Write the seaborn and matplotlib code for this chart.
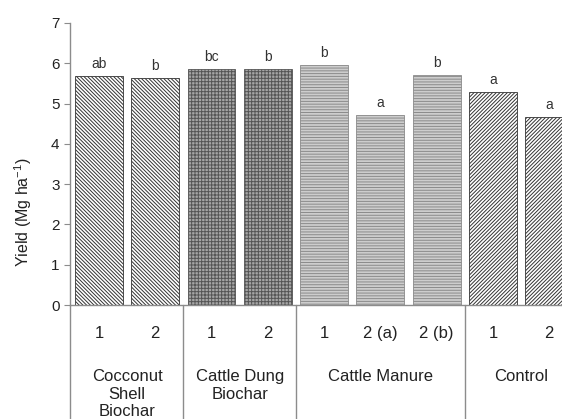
import matplotlib
matplotlib.use("Agg")
import matplotlib.pyplot as plt
import matplotlib.transforms as mtransforms
import seaborn as sns
import pandas as pd
import numpy as np

# data
groups = ["Cocconut\nShell\nBiochar", "Cattle Dung\nBiochar", "Cattle Manure", "Control"]
group_sizes = [2, 2, 3, 2]
tick_labels = ["1", "2", "1", "2", "1", "2 (a)", "2 (b)", "1", "2"]
yields = [5.68, 5.63, 5.86, 5.87, 5.96, 4.72, 5.71, 5.29, 4.67]
letters = ["ab", "b", "bc", "b", "b", "a", "b", "a", "a"]

sns.set_style("ticks")
plt.rcParams["font.family"] = ["Liberation Sans", "DejaVu Sans"]
plt.rcParams["hatch.linewidth"] = 0.7

df = pd.DataFrame({"bar": [str(i) for i in range(len(yields))], "yield": yields})

fig = plt.figure(figsize=(5.62, 4.19), dpi=100)
ax = fig.add_axes([70 / 562, 114 / 419, 513 / 562, 282 / 419])

sns.barplot(data=df, x="bar", y="yield", width=0.85, color="white", ax=ax)

styles = [
    ("white", "#333333", "\\" * 9),
    ("white", "#333333", "\\" * 9),
    ("#a6a6a6", "#555555", "+" * 5),
    ("#a6a6a6", "#555555", "+" * 5),
    ("#cdcdcd", "#8a8a8a", "-" * 6),
    ("#cdcdcd", "#8a8a8a", "-" * 6),
    ("#cdcdcd", "#8a8a8a", "-" * 6),
    ("white", "#333333", "/" * 9),
    ("white", "#333333", "/" * 9),
]
for patch, (fc, ec, h) in zip(ax.patches, styles):
    patch.set_facecolor(fc)
    patch.set_edgecolor(ec)
    patch.set_hatch(h)
    patch.set_linewidth(0.6)

for i, (v, t) in enumerate(zip(yields, letters)):
    ax.text(i, v + 0.12, t, ha="center", va="bottom", fontsize=10, color="#333333")

ax.set_xlim(-0.515, 8.6)
ax.set_ylim(0, 7)
ax.set_yticks(range(8))
ax.set_xticks(range(len(tick_labels)))
ax.set_xticklabels(tick_labels)
ax.set_xlabel("")
ax.set_ylabel("Yield (Mg ha$^{\\mathregular{-1}}$)", fontsize=11.5, color="#222222")
ax.yaxis.set_label_coords(-0.07, 0.33)

for side in ["top", "right"]:
    ax.spines[side].set_visible(False)
for side in ["left", "bottom"]:
    ax.spines[side].set_color("#8c8c8c")
    ax.spines[side].set_linewidth(1.0)
ax.tick_params(axis="y", length=4, color="#8c8c8c", labelsize=11, labelcolor="#222222")
ax.tick_params(axis="x", length=0, pad=15, labelsize=12, labelcolor="#222222")

# group separators and labels below the axis
trans = mtransforms.blended_transform_factory(ax.transData, ax.transAxes)
edges = np.concatenate([[-0.5], np.cumsum(group_sizes) - 0.5])
for e in edges[:-1]:
    xe = -0.515 if e < 0 else e
    ax.plot([xe, xe], [0, -0.45], transform=trans, color="#8c8c8c", lw=1.0, clip_on=False)
for g, lo, hi in zip(groups, edges[:-1], edges[1:]):
    ax.text((lo + hi) / 2, -0.228, g, transform=trans, ha="center", va="top",
            fontsize=12, color="#222222", linespacing=1.2)

fig.savefig("out.png", dpi=100)
